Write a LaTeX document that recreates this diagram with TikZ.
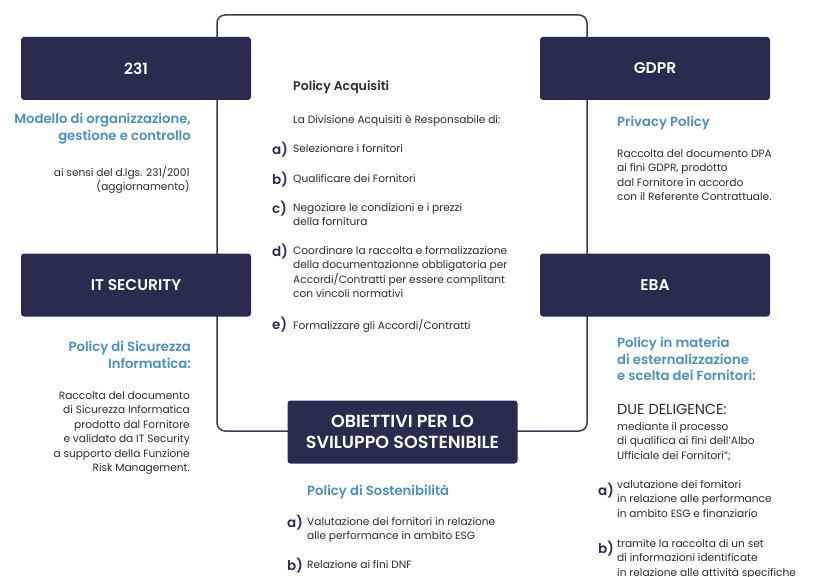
\documentclass[tikz,border=0pt]{standalone}
\usepackage{fontspec}
\setmainfont{Poppins}[BoldFont={Poppins SemiBold}]
\definecolor{navy}{HTML}{2C2A4F}
\definecolor{pblue}{HTML}{4A8FC0}
\definecolor{txt}{HTML}{2B2B2B}
\definecolor{frame}{HTML}{3B3A55}
\begin{document}
\begin{tikzpicture}[x=1pt,y=-1pt,
  boxnode/.style={fill=navy, rounded corners=3pt, text=white, align=center, inner sep=0pt,
    minimum width=230pt, minimum height=63pt, font=\fontsize{15.5}{20}\selectfont\bfseries},
  headR/.style={text=pblue, align=right, inner sep=0pt, anchor=north east, font=\fontsize{13.2}{16.5}\selectfont\bfseries},
  headL/.style={text=pblue, align=left, inner sep=0pt, anchor=north west, font=\fontsize{13.2}{16.5}\selectfont\bfseries},
  bodyR/.style={text=txt, align=right, inner sep=0pt, anchor=north east, font=\fontsize{10.6}{14.5}\selectfont},
  bodyL/.style={text=txt, align=left, inner sep=0pt, anchor=north west, font=\fontsize{10.6}{14.5}\selectfont},
  lbl/.style={text=navy, inner sep=0pt, anchor=north west, font=\fontsize{13.5}{15}\selectfont\bfseries},
  ttl/.style={text=txt, inner sep=0pt, anchor=north west, font=\fontsize{12.5}{14}\selectfont\bfseries}]
\useasboundingbox (0,0) rectangle (813,577);
\clip (0,0) rectangle (813,577);
% frame
\draw[frame, line width=1.5pt, rounded corners=8pt] (217,15) rectangle (587,431);
% boxes
\node[boxnode] (b231) at (136,68.5) {231};
\node[boxnode] (gdpr) at (655,68.5) {GDPR};
\node[boxnode] (itsec) at (136,285) {IT SECURITY};
\node[boxnode] (eba) at (655,285) {EBA};
\node[boxnode, font=\fontsize{17.5}{21}\selectfont\bfseries] (oss) at (402.5,432) {OBIETTIVI PER LO\\SVILUPPO SOSTENIBILE};
% 231 column
\node[headR] (h231) at (191,113) {Modello di organizzazione,\\gestione e controllo};
\node[bodyR] (t231) at (190,166) {ai sensi del d.lgs. 231/2001\\(aggiornamento)};
% GDPR column
\node[headL] (hgdpr) at (617,116) {Privacy Policy};
\node[bodyL] (tgdpr) at (617,149) {Raccolta del documento DPA\\ai fini GDPR, prodotto\\dal Fornitore in accordo\\con il Referente Contrattuale.};
% center
\node[ttl] (pacq) at (293,81) {Policy Acquisiti};
\node[bodyL] (div) at (293,115) {La Divisione Acquisiti è Responsabile di:};
\node[lbl] (la) at (272,142) {a)};
\node[bodyL] (ta) at (293,144) {Selezionare i fornitori};
\node[lbl] (lb) at (272,172) {b)};
\node[bodyL] (tb) at (293,174) {Qualificare dei Fornitori};
\node[lbl] (lc) at (272,201) {c)};
\node[bodyL] (tc) at (293,203) {Negoziare le condizioni e i prezzi\\della fornitura};
\node[lbl] (ld) at (272,244) {d)};
\node[bodyL] (td) at (293,246) {Coordinare la raccolta e formalizzazione\\della documentazionne obbligatoria per\\Accordi/Contratti per essere complitant\\con vincoli normativi};
\node[lbl] (le) at (272,317) {e)};
\node[bodyL] (te) at (293,319) {Formalizzare gli Accordi/Contratti};
% IT security column
\node[headR] (hit) at (191,341) {Policy di Sicurezza\\Informatica:};
\node[bodyR] (tit) at (190,391) {Raccolta del documento\\di Sicurezza Informatica\\prodotto dal Fornitore\\e validato da IT Security\\a supporto della Funzione\\Risk Management.};
% EBA column
\node[headL] (heba) at (617,337) {Policy in materia\\di esternalizzazione\\e scelta dei Fornitori:};
\node[bodyL, font=\fontsize{14.5}{16}\selectfont] (due) at (617,404) {DUE DELIGENCE:};
\node[bodyL] (teba) at (617,422) {mediante il processo\\di qualifica ai fini dell’Albo\\Ufficiale dei Fornitori”;};
\node[lbl] (lea) at (598,483) {a)};
\node[bodyL] (tea) at (617,480) {valutazione dei fornitori\\in relazione alle performance\\in ambito ESG e finanziario};
\node[lbl] (leb) at (598,541) {b)};
\node[bodyL] (teb) at (617,539) {tramite la raccolta di un set\\di informazioni identificate\\in relazione alle attività specifiche};
% OSS column
\node[headL] (hoss) at (307,485) {Policy di Sostenibilità};
\node[lbl] (loa) at (287,515) {a)};
\node[bodyL] (toa) at (307,517) {Valutazione dei fornitori in relazione\\alle performance in ambito ESG};
\node[lbl] (lob) at (287,558) {b)};
\node[bodyL] (tob) at (307,560) {Relazione ai fini DNF};
\end{tikzpicture}
\end{document}
